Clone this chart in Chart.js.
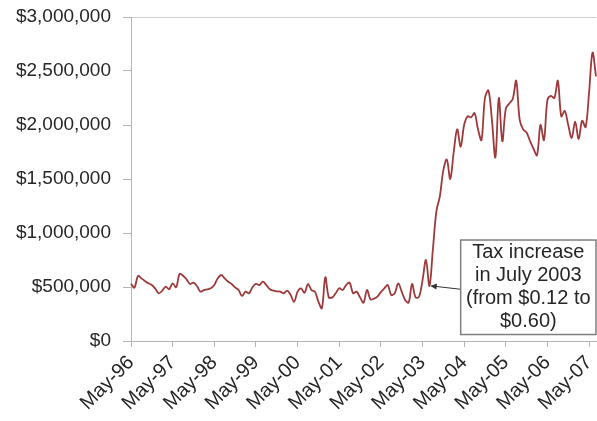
<!DOCTYPE html>
<html>
<head>
<meta charset="utf-8">
<script src="https://cdn.jsdelivr.net/npm/chart.js@4.4.1/dist/chart.umd.min.js"></script>
<style>
  html, body { margin: 0; padding: 0; background: #fff; }
  #wrap { width: 597px; height: 421px; }
</style>
</head>
<body>
<div id="wrap"><canvas id="chart"></canvas></div>
<script>
// Monthly revenue, May-96 .. Jul-07, one row per May-Apr year
const year96 = [530000, 494000, 602000, 580000, 556000, 534000, 518000, 484000, 442000, 466000, 503000, 479000]
const year97 = [534000, 497000, 620000, 605000, 571000, 528000, 540000, 509000, 457000, 472000, 479000, 488000]
const year98 = [518000, 580000, 611000, 580000, 549000, 528000, 497000, 472000, 417000, 457000, 442000, 497000]
const year99 = [528000, 518000, 549000, 518000, 479000, 466000, 460000, 457000, 442000, 466000, 426000, 364000]
const year00 = [457000, 488000, 447000, 528000, 472000, 457000, 364000, 303000, 590000, 404000, 404000, 442000]
const year01 = [488000, 472000, 518000, 540000, 442000, 457000, 404000, 355000, 472000, 386000, 392000, 410000]
const year02 = [453000, 488000, 518000, 426000, 442000, 534000, 457000, 380000, 355000, 528000, 404000, 410000]
const year03 = [560000, 750000, 510000, 850000, 1200000, 1340000, 1580000, 1680000, 1500000, 1750000, 1960000, 1800000]
const year04 = [2000000, 2080000, 2070000, 2110000, 1960000, 1860000, 2250000, 2320000, 2050000, 1700000, 2250000, 1850000]
const year05 = [2150000, 2200000, 2240000, 2410000, 2050000, 1960000, 1930000, 1850000, 1780000, 1720000, 2000000, 1860000]
const year06 = [2230000, 2270000, 2250000, 2410000, 2080000, 2130000, 2000000, 1880000, 2030000, 1870000, 2040000, 1980000]
const year07 = [2300000, 2670000, 2450000]

const monthNames = ["May", "Jun", "Jul", "Aug", "Sep", "Oct", "Nov", "Dec", "Jan", "Feb", "Mar", "Apr"]
const tickLabels = ["May-96", "May-97", "May-98", "May-99", "May-00", "May-01",
  "May-02", "May-03", "May-04", "May-05", "May-06", "May-07"]

const yTicks = [0, 500000, 1000000, 1500000, 2000000, 2500000, 3000000]

// annotation: text, the month it points at, and the box extent (month index / dollars)
const noteLines = ["Tax increase", "in July 2003", "(from $0.12 to", "$0.60)"]
const noteMonth = 86
const noteBox = { fromMonth: 95, top: 935000, bottom: 60000 }

const revenue = [].concat(year96, year97, year98, year99, year00, year01,
  year02, year03, year04, year05, year06, year07)

// month labels: only the May ones are shown on the axis
const months = revenue.map((_, i) => {
  const yr = 96 + Math.floor((i + 4) / 12)
  return monthNames[i % 12] + "-" + String(yr % 100).padStart(2, "0")
})

const FONT = "'Liberation Sans', Arial, sans-serif"
const TEXT = "#262626"
const LINE_GRAY = "#b4b4b4"

const noteBoxPlugin = {
  id: "noteBox",
  afterDatasetsDraw(chart) {
    const { ctx, scales: { x, y } } = chart
    const left = x.getPixelForValue(noteBox.fromMonth)
    const right = chart.width - 1
    const top = y.getPixelForValue(noteBox.top)
    const bottom = y.getPixelForValue(noteBox.bottom)
    const midY = (top + bottom) / 2

    const px = x.getPixelForValue(noteMonth)
    const py = y.getPixelForValue(revenue[noteMonth])

    ctx.save()
    // arrow
    ctx.strokeStyle = "#333"
    ctx.fillStyle = "#333"
    ctx.lineWidth = 1
    ctx.beginPath()
    ctx.moveTo(left, midY + 2)
    ctx.lineTo(px + 2, py)
    ctx.stroke()
    const ang = Math.atan2(py - (midY + 2), px - left)
    ctx.beginPath()
    ctx.moveTo(px + 1, py)
    ctx.lineTo(px + 1 - 7 * Math.cos(ang - 0.45), py - 7 * Math.sin(ang - 0.45))
    ctx.lineTo(px + 1 - 7 * Math.cos(ang + 0.45), py - 7 * Math.sin(ang + 0.45))
    ctx.closePath()
    ctx.fill()

    // box
    ctx.fillStyle = "#fff"
    ctx.fillRect(left, top, right - left, bottom - top)
    ctx.strokeStyle = "#7f7f7f"
    ctx.lineWidth = 1.5
    ctx.strokeRect(left, top, right - left, bottom - top)

    // text
    ctx.fillStyle = TEXT
    ctx.font = "20px " + FONT
    ctx.textAlign = "center"
    ctx.textBaseline = "middle"
    const lh = 23
    const cx = (left + right) / 2
    const y0 = midY - lh * (noteLines.length - 1) / 2
    noteLines.forEach((t, i) => ctx.fillText(t, cx, y0 + i * lh))
    ctx.restore()
  }
}

new Chart(document.getElementById("chart"), {
  type: "line",
  data: {
    labels: months,
    datasets: [{
      data: revenue,
      borderColor: "#9e3a3c",
      borderWidth: 1.8,
      pointRadius: 0,
      tension: 0.35,
      fill: false
    }]
  },
  options: {
    responsive: true,
    maintainAspectRatio: false,
    animation: false,
    layout: { padding: { top: 17, right: 1, left: 0, bottom: 0 } },
    plugins: { legend: { display: false }, tooltip: { enabled: false } },
    scales: {
      x: {
        type: "category",
        offset: false,
        afterFit: (s) => { s.height = 80; s.paddingLeft = 0; s.paddingRight = 0 },
        border: { color: LINE_GRAY, width: 1 },
        grid: {
          drawOnChartArea: false,
          tickLength: 6,
          tickColor: (c) => (tickLabels.includes(months[c.index]) ? LINE_GRAY : "rgba(0,0,0,0)")
        },
        ticks: {
          autoSkip: false,
          minRotation: 45,
          maxRotation: 45,
          padding: 4,
          color: TEXT,
          font: { family: FONT, size: 20 },
          callback: (v, i) => (tickLabels.includes(months[i]) ? months[i] : "")
        }
      },
      y: {
        min: 0,
        max: 3000000,
        afterFit: (s) => { s.width = 131; s.paddingTop = 0; s.paddingBottom = 0 },
        afterBuildTicks: (s) => { s.ticks = yTicks.map((v) => ({ value: v })) },
        border: { color: LINE_GRAY, width: 1 },
        grid: {
          tickLength: 8,
          color: (c) => (c.tick && c.tick.value === 3000000 ? "#d0d0d0" : "rgba(0,0,0,0)"),
          tickColor: LINE_GRAY
        },
        ticks: {
          padding: 12,
          color: TEXT,
          font: { family: FONT, size: 19 },
          callback: (v) => "$" + Number(v).toLocaleString("en-US")
        }
      }
    }
  },
  plugins: [noteBoxPlugin]
})
</script>
</body>
</html>
